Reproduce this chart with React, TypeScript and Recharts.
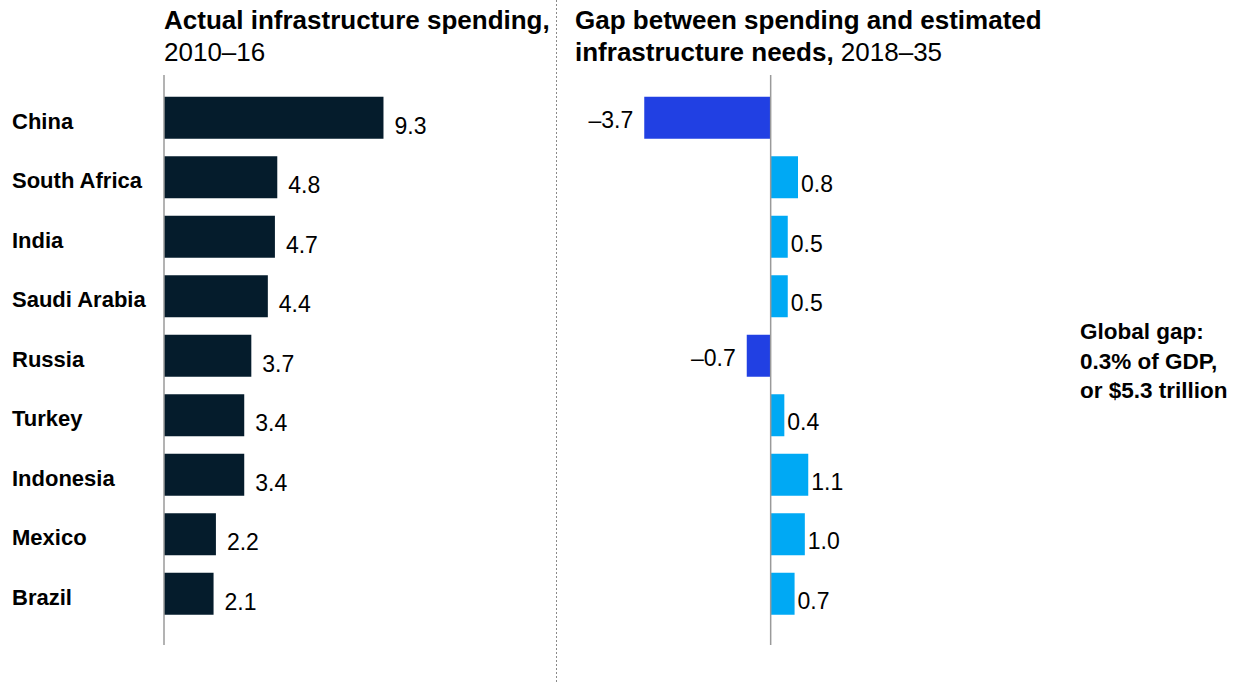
import { BarChart, Bar, XAxis, YAxis, Cell, LabelList, ReferenceLine } from 'recharts'

const countries = ['China', 'South Africa', 'India', 'Saudi Arabia', 'Russia', 'Turkey', 'Indonesia', 'Mexico', 'Brazil']
const actualSpending = [9.3, 4.8, 4.7, 4.4, 3.7, 3.4, 3.4, 2.2, 2.1]
const spendingGap = [-3.7, 0.8, 0.5, 0.5, -0.7, 0.4, 1.1, 1.0, 0.7]

const FONT = '"Liberation Sans", Arial, sans-serif'
const AXIS_GREY = '#9a9a9a'
const NAVY = '#051c2c'
const NEG_BLUE = '#2140e3'
const POS_CYAN = '#00a9f4'

const leftData = countries.map((country, i) => ({ country, value: actualSpending[i] }))
const rightData = countries.map((country, i) => ({ country, value: spendingGap[i] }))

const fmt = (v: number) => (v < 0 ? '\u2013' + Math.abs(v).toFixed(1) : v.toFixed(1))

const CHART_MARGIN_TOP = 75
const CHART_MARGIN_BOTTOM = 37
const BAND_PADDING = { top: 12.75, bottom: 21.75 }

function CountryTick({ y, payload }: any) {
  return (
    <text x={12} y={y + 11} textAnchor="start" fontFamily={FONT} fontSize={22} fontWeight={700} fill="#000">
      {payload.value}
    </text>
  )
}

function LeftValueLabel({ x, y, width, height, value }: any) {
  return (
    <text x={x + width + 11} y={y + height / 2 + 16} fontFamily={FONT} fontSize={23} fill="#000">
      {fmt(value)}
    </text>
  )
}

function GapValueLabel({ x, y, width, height, value }: any) {
  const left = Math.min(x, x + width)
  const right = Math.max(x, x + width)
  if (value < 0) {
    return (
      <text x={left - 11} y={y + height / 2 + 10} textAnchor="end" fontFamily={FONT} fontSize={23} fill="#000">
        {fmt(value)}
      </text>
    )
  }
  return (
    <text x={right + 3} y={y + height / 2 + 15} fontFamily={FONT} fontSize={23} fill="#000">
      {fmt(value)}
    </text>
  )
}

export default function App() {
  return (
    <div style={{ position: 'absolute', left: 0, top: 0, width: 1245, height: 682, background: '#fff', fontFamily: FONT }}>
      <div style={{ position: 'absolute', left: 0, top: 0 }}>
        <BarChart
          width={556}
          height={682}
          layout="vertical"
          data={leftData}
          margin={{ top: CHART_MARGIN_TOP, right: 156, bottom: CHART_MARGIN_BOTTOM, left: 0 }}
        >
          <XAxis type="number" domain={[0, 10]} hide />
          <YAxis
            type="category"
            dataKey="country"
            width={164}
            axisLine={{ stroke: AXIS_GREY, strokeWidth: 1.5 }}
            tickLine={false}
            tick={<CountryTick />}
            padding={BAND_PADDING}
            interval={0}
          />
          <Bar dataKey="value" fill={NAVY} barSize={42} isAnimationActive={false}>
            <LabelList dataKey="value" content={<LeftValueLabel />} />
          </Bar>
        </BarChart>
      </div>

      <div style={{ position: 'absolute', left: 556, top: 0 }}>
        <BarChart
          width={500}
          height={682}
          layout="vertical"
          data={rightData}
          margin={{ top: CHART_MARGIN_TOP, right: 217, bottom: CHART_MARGIN_BOTTOM, left: 78 }}
        >
          <XAxis type="number" domain={[-4, 2]} hide />
          <YAxis type="category" dataKey="country" hide padding={BAND_PADDING} />
          <Bar dataKey="value" barSize={42} isAnimationActive={false}>
            {rightData.map((d) => (
              <Cell key={d.country} fill={d.value < 0 ? NEG_BLUE : POS_CYAN} />
            ))}
            <LabelList dataKey="value" content={<GapValueLabel />} />
          </Bar>
          <ReferenceLine x={0} stroke={AXIS_GREY} strokeWidth={1.5} />
        </BarChart>
      </div>

      <svg width={1245} height={682} style={{ position: 'absolute', left: 0, top: 0, pointerEvents: 'none' }}>
        {/* dotted divider between the two panels */}
        <line x1={556.5} y1={0} x2={556.5} y2={682} stroke="#8a8a8a" strokeWidth={1} strokeDasharray="2 2" />
        <g fontFamily={FONT} fill="#000">
          <text x={164} y={29} fontSize={26} fontWeight={700}>Actual infrastructure spending,</text>
          <text x={164} y={61} fontSize={26}>2010–16</text>
          <text x={575} y={29} fontSize={26} fontWeight={700}>Gap between spending and estimated</text>
          <text x={575} y={61} fontSize={26}>
            <tspan fontWeight={700}>infrastructure needs,</tspan>
            <tspan> 2018–35</tspan>
          </text>
          <text x={1080} y={339} fontSize={22.5} fontWeight={700}>Global gap:</text>
          <text x={1080} y={368.5} fontSize={22.5} fontWeight={700}>0.3% of GDP,</text>
          <text x={1080} y={398} fontSize={22.5} fontWeight={700}>or $5.3 trillion</text>
        </g>
      </svg>
    </div>
  )
}
